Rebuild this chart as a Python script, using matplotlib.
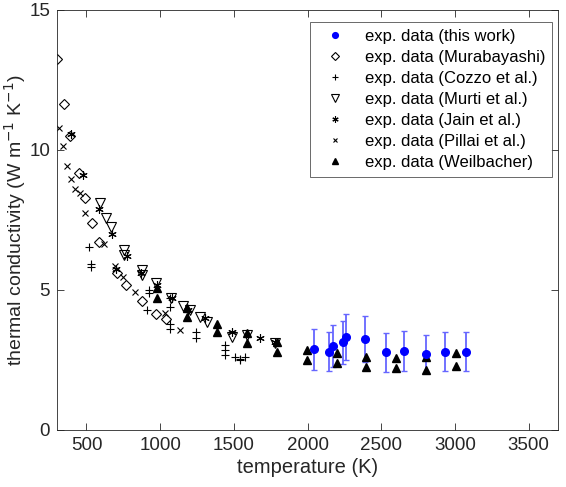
import numpy as np
import matplotlib
matplotlib.use("Agg")
import matplotlib.pyplot as plt

plt.rcParams['font.family'] = ['Liberation Sans', 'DejaVu Sans']

# this work (blue, with error bars)
t_this = [2044, 2143, 2170, 2243, 2259, 2390, 2530, 2654, 2803, 2930, 3075]
k_this = [2.88, 2.80, 3.00, 3.13, 3.33, 3.25, 2.77, 2.83, 2.71, 2.79, 2.79]
e_this = [0.72, 0.70, 0.75, 0.78, 0.83, 0.81, 0.69, 0.71, 0.68, 0.70, 0.70]

# Murabayashi
t_mura = [302, 347, 388, 447, 488, 540, 587, 705, 766, 875, 970, 1040]
k_mura = [13.24, 11.64, 10.50, 9.17, 8.27, 7.40, 6.71, 5.60, 5.18, 4.62, 4.13, 3.97]

# Cozzo et al.
t_cozz = [519, 528, 528, 908, 926, 926, 1067, 1067, 1065, 1065, 1240, 1240,
          1440, 1440, 1440, 1510, 1545, 1575, 1545]
k_cozz = [6.52, 5.93, 5.83, 4.29, 5.00, 4.88, 4.72, 4.40, 3.80, 3.60, 3.50, 3.30,
          3.04, 2.86, 2.68, 2.60, 2.55, 2.60, 2.50]

# Murti et al.
t_murt = [592, 630, 666, 755, 755, 875, 875, 972, 1071, 1157, 1202, 1270, 1320,
          1485, 1587, 1779]
k_murt = [8.10, 7.58, 7.24, 6.43, 6.25, 5.71, 5.55, 5.24, 4.70, 4.43, 4.29, 4.05, 3.85,
          3.33, 3.39, 3.10]

# Jain et al.
t_jain = [393, 478, 583, 671, 700, 777, 870, 976, 1078, 1191, 1304, 1485, 1677, 1779]
k_jain = [10.56, 9.10, 7.88, 6.99, 5.75, 6.23, 5.60, 5.18, 4.70, 4.29, 3.99, 3.51, 3.30, 3.15]

# Pillai et al.
t_pill = [316, 339, 370, 397, 424, 456, 488, 619, 693, 750, 829, 1033, 1134]
k_pill = [10.80, 10.15, 9.44, 8.95, 8.60, 8.45, 7.76, 6.64, 5.86, 5.48, 4.94, 4.18, 3.57]

# Weilbacher
t_weil = [976, 976, 1180, 1180, 1383, 1383, 1587, 1587, 1790, 1790, 1994, 1994,
          2198, 2198, 2396, 2396, 2600, 2600, 2803, 2803, 3007, 3007]
k_weil = [5.07, 4.71, 4.35, 4.05, 3.80, 3.50, 3.45, 3.10, 3.15, 2.80, 2.86, 2.50,
          2.74, 2.38, 2.60, 2.24, 2.56, 2.20, 2.60, 2.14, 2.74, 2.29]

fig = plt.figure(figsize=(5.66, 4.87), dpi=100)
ax = fig.add_axes([57/566, 57/487, 501/566, 420/487])

ax.errorbar(t_this, k_this, yerr=e_this, fmt='none', ecolor=(0.4, 0.4, 1.0),
            elinewidth=1.3, capsize=2, capthick=1.0, zorder=2)
ax.plot(t_this, k_this, 'o', color='#0000ff', ms=5.5, zorder=3,
        label='exp. data (this work)')
ax.plot(t_mura, k_mura, 'D', mfc='none', mec='k', ms=5, mew=0.8,
        label='exp. data (Murabayashi)')
ax.plot(t_cozz, k_cozz, '+', color='k', ms=6, mew=0.8,
        label='exp. data (Cozzo et al.)')
ax.plot(t_murt, k_murt, 'v', mfc='none', mec='k', ms=7, mew=0.8,
        label='exp. data (Murti et al.)')
ax.plot(t_jain, k_jain, ls='none', marker=(6, 2, 0), color='k', ms=6, mew=0.8,
        label='exp. data (Jain et al.)')
ax.plot(t_pill, k_pill, 'x', color='k', ms=4.5, mew=0.8,
        label='exp. data (Pillai et al.)')
ax.plot(t_weil, k_weil, '^', color='k', ms=6,
        label='exp. data (Weilbacher)')

ax.set_xlim(300, 3700)
ax.set_ylim(0, 15)
ax.set_xticks([500, 1000, 1500, 2000, 2500, 3000, 3500])
ax.set_yticks([0, 5, 10, 15])
ax.tick_params(direction='in', top=True, right=True, length=5, width=0.6,
               labelsize=13.5, colors='#262626', pad=5)
for s in ax.spines.values():
    s.set_color('#262626')
    s.set_linewidth(0.6)

ax.set_xlabel('temperature (K)', fontsize=14.5, color='#262626', labelpad=3)
ax.set_ylabel('thermal conductivity (W m$^{-1}$ K$^{-1}$)', fontsize=14,
              color='#262626', labelpad=1)

leg = ax.legend(loc='upper right', bbox_to_anchor=(0.988, 0.971), borderaxespad=0,
                fancybox=False, edgecolor='#262626', fontsize=12, labelspacing=0.36,
                handletextpad=0.7, handlelength=2.2, borderpad=0.4, markerscale=0.75)
leg.get_frame().set_linewidth(0.6)

fig.savefig('out.png', dpi=100)
